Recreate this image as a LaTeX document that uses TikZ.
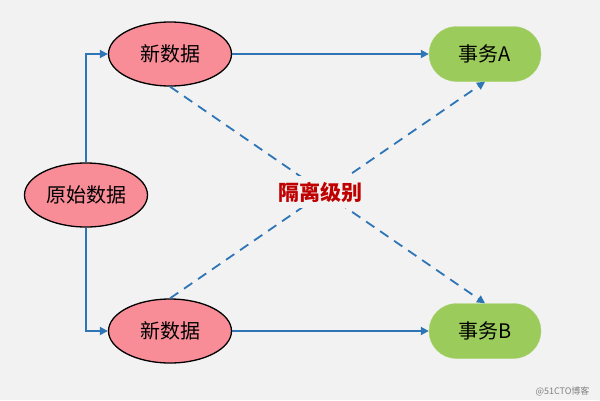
\documentclass[tikz,border=0pt]{standalone}
\usepackage{fontspec}
\setmainfont{Noto Sans CJK SC}
\usetikzlibrary{arrows.meta,shapes.geometric,shapes.misc}
\definecolor{bgc}{HTML}{F2F2F2}
\definecolor{linec}{HTML}{2E75B6}
\definecolor{pinkc}{HTML}{F88D98}
\definecolor{greenc}{HTML}{9BCB5B}
\definecolor{redc}{HTML}{C00000}
\begin{document}
\begin{tikzpicture}[x=1pt,y=-1pt,
  dataell/.style={ellipse,draw=black,line width=1.3pt,fill=pinkc,minimum width=123pt,minimum height=64pt,inner sep=0pt,font=\fontsize{20}{20}\selectfont},
  txbox/.style={rounded rectangle,fill=greenc,draw=greenc!85!white,minimum width=112pt,minimum height=55pt,inner sep=0pt,font=\fontsize{20}{20}\selectfont},
  conn/.style={draw=linec,line width=1.8pt,-{Triangle[length=8pt,width=8pt]}},
  dconn/.style={conn,dash pattern=on 10pt off 7pt}]
\fill[bgc] (0,0) rectangle (600,400);
\useasboundingbox (0,0) rectangle (600,400);
\node[dataell] (orig) at (86,195) {原始数据};
\node[dataell] (n1) at (170,54) {新数据};
\node[dataell] (n2) at (170,331) {新数据};
\node[txbox] (ta) at (485,54) {事务A};
\node[txbox] (tb) at (485,331) {事务B};
\node[text=gray,font=\fontsize{9}{9}\selectfont,anchor=east] (wm) at (593,391) {@51CTO博客};
\draw[conn] (orig.north) |- (n1.west);
\draw[conn] (orig.south) |- (n2.west);
\draw[conn] (n1.east) -- (ta.west);
\draw[conn] (n2.east) -- (tb.west);
\draw[dconn] (n1.south) -- (tb.north);
\draw[dconn] (n2.north) -- (ta.south);
\node[text=redc,fill=bgc,inner xsep=3pt,inner ysep=6pt,font=\fontsize{21}{21}\selectfont\bfseries] (iso) at (320,192) {隔离级别};
\end{tikzpicture}
\end{document}
